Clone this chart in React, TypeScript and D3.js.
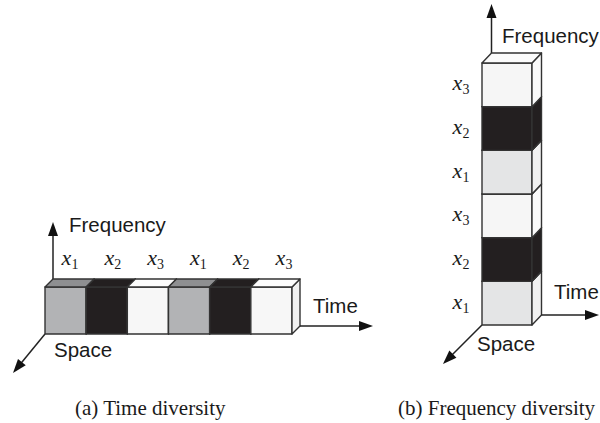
import * as d3 from 'd3';

const W = 600;
const H = 423;

// which symbol x_k sits in each slot (left to right for time, bottom to top for frequency)
const timeSlots = [1, 2, 3, 1, 2, 3];
const freqSlots = [1, 2, 3, 1, 2, 3];
const captions = ['(a) Time diversity', '(b) Frequency diversity'];

// front / top / side fills per symbol
const shadesA: Record<number, string[]> = {
  1: ['#b2b3b5', '#8e8f91', '#a2a3a5'],
  2: ['#231f20', '#231f20', '#231f20'],
  3: ['#f7f7f7', '#fcfcfc', '#f1f1f1'],
};
const shadesB: Record<number, string[]> = {
  1: ['#e4e5e6', '#ececec', '#f1f1f1'],
  2: ['#231f20', '#231f20', '#231f20'],
  3: ['#f6f6f6', '#fbfbfb', '#fafafa'],
};

const EDGE = '#333';
const SANS = '"Liberation Sans", Arial, sans-serif';
const SERIF = '"Liberation Serif", "Times New Roman", serif';

function Cuboid({ x0, x1, y0, y1, dx, dy, fills }: { x0: number; x1: number; y0: number; y1: number; dx: number; dy: number; fills: string[] }) {
  const top = [[x0, y0], [x0 + dx, y0 + dy], [x1 + dx, y0 + dy], [x1, y0]];
  const side = [[x1, y0], [x1 + dx, y0 + dy], [x1 + dx, y1 + dy], [x1, y1]];
  const pts = (p: number[][]) => p.map((d) => d.join(',')).join(' ');
  return (
    <g stroke={EDGE} strokeWidth={1.4} strokeLinejoin="round">
      <rect x={x0} y={y0} width={x1 - x0} height={y1 - y0} fill={fills[0]} />
      <polygon points={pts(side)} fill={fills[2]} />
      <polygon points={pts(top)} fill={fills[1]} />
    </g>
  );
}

function Arrow({ x1, y1, x2, y2 }: { x1: number; y1: number; x2: number; y2: number }) {
  const len = Math.hypot(x2 - x1, y2 - y1);
  const ux = (x2 - x1) / len;
  const uy = (y2 - y1) / len;
  const hl = 14;
  const hw = 5;
  const bx = x2 - ux * hl;
  const by = y2 - uy * hl;
  const head = `${x2},${y2} ${bx - uy * hw},${by + ux * hw} ${bx + uy * hw},${by - ux * hw}`;
  return (
    <g>
      <line x1={x1} y1={y1} x2={bx + ux * 2} y2={by + uy * 2} stroke="#222" strokeWidth={1.5} />
      <polygon points={head} fill="#111" />
    </g>
  );
}

function SymLabel({ x, y, k }: { x: number; y: number; k: number }) {
  return (
    <text x={x} y={y} fontFamily={SERIF} fontStyle="italic" fontSize={22} fill="#1a1a1a" textAnchor="middle">
      x<tspan dy={4} fontSize={14} fontStyle="normal">{k}</tspan>
    </text>
  );
}

export default function App() {
  // (a) time diversity: one row of cells along time
  const xA = d3.scaleBand<number>().domain(d3.range(timeSlots.length)).range([45, 292]);
  const labelA = d3.scalePoint<number>().domain(d3.range(timeSlots.length)).range([70, 284]);
  const aTop = 287;
  const aBot = 334;
  const dA = 8;

  // (b) frequency diversity: one column of cells along frequency
  const yB = d3.scaleBand<number>().domain(d3.range(freqSlots.length)).range([325, 63]);
  const bLeft = 482;
  const bRight = 532;
  const dBx = 9.5;
  const dBy = -10;

  return (
    <svg width={W} height={H} style={{ position: 'absolute', left: 0, top: 0, background: '#fff' }}>
      <rect width={W} height={H} fill="#fff" />

      {/* (a) */}
      <Arrow x1={45 + dA} y1={aTop - dA} x2={45 + dA} y2={222} />
      <Arrow x1={45} y1={aBot} x2={13} y2={373} />
      {timeSlots.map((k, i) => (
        <Cuboid key={i} x0={xA(i)!} x1={xA(i)! + xA.bandwidth()} y0={aTop} y1={aBot} dx={dA} dy={-dA} fills={shadesA[k]} />
      ))}
      <Arrow x1={292 + dA} y1={aBot - dA} x2={373} y2={aBot - dA} />
      {timeSlots.map((k, i) => (
        <SymLabel key={i} x={labelA(i)!} y={265} k={k} />
      ))}
      <text x={69} y={232} fontFamily={SANS} fontSize={20.5} fill="#1a1a1a">Frequency</text>
      <text x={313} y={313} fontFamily={SANS} fontSize={20.5} fill="#1a1a1a">Time</text>
      <text x={54} y={357} fontFamily={SANS} fontSize={20.5} fill="#1a1a1a">Space</text>

      {/* (b) */}
      <Arrow x1={bLeft + dBx} y1={63 + dBy} x2={bLeft + dBx} y2={4} />
      <Arrow x1={bLeft} y1={325} x2={443} y2={364} />
      {freqSlots.map((k, i) => (
        <Cuboid key={i} x0={bLeft} x1={bRight} y0={yB(i)!} y1={yB(i)! + yB.bandwidth()} dx={dBx} dy={dBy} fills={shadesB[k]} />
      ))}
      <Arrow x1={bRight + dBx} y1={325 + dBy} x2={599} y2={325 + dBy} />
      {freqSlots.map((k, i) => (
        <SymLabel key={i} x={461} y={yB(i)! + yB.bandwidth() / 2 + 5.5} k={k} />
      ))}
      <text x={502} y={43} fontFamily={SANS} fontSize={20.5} fill="#1a1a1a">Frequency</text>
      <text x={554} y={299} fontFamily={SANS} fontSize={20.5} fill="#1a1a1a">Time</text>
      <text x={477} y={351} fontFamily={SANS} fontSize={20.5} fill="#1a1a1a">Space</text>

      {/* captions */}
      <text x={75} y={415} fontFamily={SERIF} fontSize={21} fill="#1a1a1a">{captions[0]}</text>
      <text x={398} y={415} fontFamily={SERIF} fontSize={21} fill="#1a1a1a">{captions[1]}</text>
    </svg>
  );
}
